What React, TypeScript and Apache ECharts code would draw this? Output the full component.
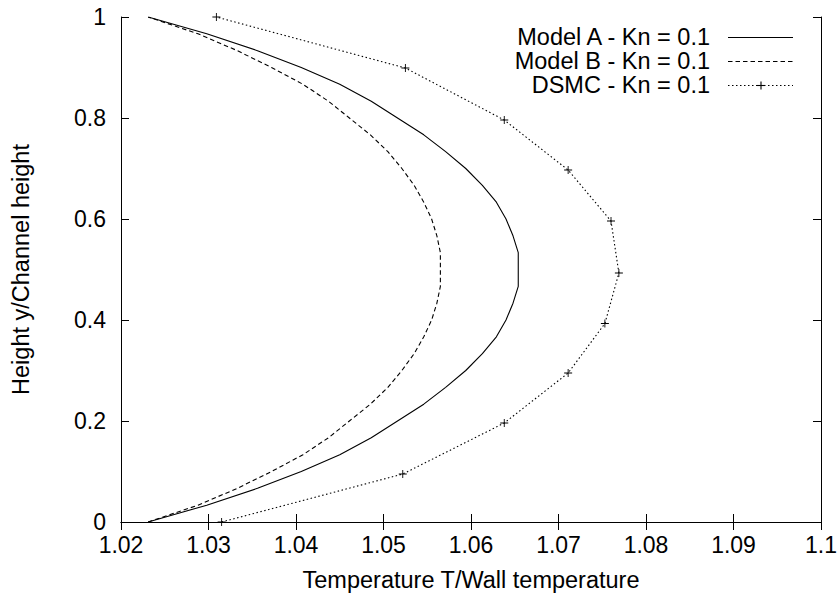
import React, { useEffect, useRef } from "react";
import * as echarts from "echarts";

const FONT = '"Liberation Sans", Arial, Helvetica, sans-serif';

// y / channel height (shared grid for the two model curves)
const modelY = [
  0, 0.0333, 0.0667, 0.1, 0.1333, 0.1667, 0.2, 0.2333, 0.2667, 0.3, 0.3333,
  0.3667, 0.4, 0.4333, 0.4667, 0.5, 0.5333, 0.5667, 0.6, 0.6333, 0.6667, 0.7,
  0.7333, 0.7667, 0.8, 0.8333, 0.8667, 0.9, 0.9333, 0.9667, 1.0,
];

// Model A - Kn = 0.1 : T / wall temperature
const modelAT = [
  1.0231, 1.0298, 1.0356, 1.0406, 1.045, 1.0486, 1.0516, 1.0546, 1.0571,
  1.0594, 1.0613, 1.0629, 1.064, 1.0648, 1.0654, 1.0654, 1.0654, 1.0648,
  1.064, 1.0629, 1.0613, 1.0594, 1.0571, 1.0546, 1.0516, 1.0486, 1.045,
  1.0406, 1.0356, 1.0298, 1.0231,
];

// Model B - Kn = 0.1 : T / wall temperature
const modelBT = [
  1.0231, 1.0288, 1.0333, 1.0372, 1.0408, 1.0437, 1.0461, 1.0485, 1.0505,
  1.0521, 1.0535, 1.0546, 1.0555, 1.0561, 1.0565, 1.0565, 1.0565, 1.0561,
  1.0555, 1.0546, 1.0535, 1.0521, 1.0505, 1.0485, 1.0461, 1.0437, 1.0408,
  1.0372, 1.0333, 1.0288, 1.0231,
];

// DSMC - Kn = 0.1
const dsmcY = [0, 0.095, 0.196, 0.295, 0.393, 0.493, 0.596, 0.697, 0.796, 0.899, 1.0];
const dsmcT = [
  1.0315, 1.0522, 1.0638, 1.0711, 1.0753, 1.0769, 1.076, 1.0711, 1.0638,
  1.0525, 1.0309,
];

const seriesNames = ["Model A - Kn = 0.1", "Model B - Kn = 0.1", "DSMC - Kn = 0.1"];
const xTitle = "Temperature T/Wall temperature";
const yTitle = "Height y/Channel height";

const X_MIN = 1.02;
const X_MAX = 1.1;
const X_STEP = 0.01;
const Y_MIN = 0;
const Y_MAX = 1;
const Y_STEP = 0.2;

const PLUS = "path://M4,0h1v4h4v1h-4v4h-1v-4h-4v-1h4z";

export default function App() {
  const ref = useRef<HTMLDivElement>(null);

  useEffect(() => {
    if (!ref.current) return;
    const chart = echarts.init(ref.current, undefined, { renderer: "svg" });

    const axisLine = { show: true, lineStyle: { color: "#000", width: 1 } };
    const axisTick = { show: true, inside: true, length: 8, lineStyle: { color: "#000", width: 1 } };
    const labelStyle = { color: "#000", fontSize: 23, fontFamily: FONT };

    const legendX = 710;
    const sampleX1 = 728;
    const sampleX2 = 793;
    const rows = [37, 61, 85];

    const option: any = {
      animation: false,
      backgroundColor: "#fff",
      grid: { left: 121, top: 17, right: 18, bottom: 75, containLabel: false },
      xAxis: [
        {
          type: "value",
          position: "bottom",
          min: X_MIN,
          max: X_MAX,
          interval: X_STEP,
          axisLine,
          axisTick,
          splitLine: { show: false },
          axisLabel: {
            ...labelStyle,
            margin: 11,
            formatter: (v: number) => String(parseFloat(v.toFixed(2))),
          },
          name: xTitle,
          nameLocation: "middle",
          nameGap: 46,
          nameTextStyle: { color: "#000", fontSize: 23.5, fontFamily: FONT },
        },
        {
          type: "value",
          position: "top",
          min: X_MIN,
          max: X_MAX,
          interval: X_STEP,
          axisLine,
          axisTick,
          splitLine: { show: false },
          axisLabel: { show: false },
        },
      ],
      yAxis: [
        {
          type: "value",
          position: "left",
          min: Y_MIN,
          max: Y_MAX,
          interval: Y_STEP,
          axisLine,
          axisTick,
          splitLine: { show: false },
          axisLabel: { ...labelStyle, margin: 15 },
          name: yTitle,
          nameLocation: "middle",
          nameRotate: 90,
          nameGap: 88,
          nameTextStyle: { color: "#000", fontSize: 23.5, fontFamily: FONT },
        },
        {
          type: "value",
          position: "right",
          min: Y_MIN,
          max: Y_MAX,
          interval: Y_STEP,
          axisLine,
          axisTick,
          splitLine: { show: false },
          axisLabel: { show: false },
        },
      ],
      series: [
        {
          name: seriesNames[0],
          type: "line",
          xAxisIndex: 0,
          yAxisIndex: 0,
          data: modelAT.map((t, i) => [t, modelY[i]]),
          symbol: "none",
          showSymbol: false,
          lineStyle: { color: "#000", width: 1.1, type: "solid" },
        },
        {
          name: seriesNames[1],
          type: "line",
          xAxisIndex: 0,
          yAxisIndex: 0,
          data: modelBT.map((t, i) => [t, modelY[i]]),
          symbol: "none",
          showSymbol: false,
          lineStyle: { color: "#000", width: 1.1, type: [4.5, 3] },
        },
        {
          name: seriesNames[2],
          type: "line",
          xAxisIndex: 0,
          yAxisIndex: 0,
          data: dsmcT.map((t, i) => [t, dsmcY[i]]),
          symbol: PLUS,
          symbolSize: 8,
          showSymbol: true,
          itemStyle: { color: "#000" },
          lineStyle: { color: "#000", width: 1.1, type: [1.5, 2.5] },
        },
      ],
      graphic: [
        ...seriesNames.map((n, i) => ({
          type: "text",
          x: legendX,
          y: rows[i],
          style: {
            text: n,
            fill: "#000",
            fontSize: 23.5,
            fontFamily: FONT,
            textAlign: "right",
            textVerticalAlign: "middle",
          },
        })),
        {
          type: "line",
          shape: { x1: sampleX1, y1: rows[0] + 0.5, x2: sampleX2, y2: rows[0] + 0.5 },
          style: { stroke: "#000", lineWidth: 1.1 },
        },
        {
          type: "line",
          shape: { x1: sampleX1, y1: rows[1] + 0.5, x2: sampleX2, y2: rows[1] + 0.5 },
          style: { stroke: "#000", lineWidth: 1.1, lineDash: [4.5, 3] },
        },
        {
          type: "line",
          shape: { x1: sampleX1, y1: rows[2] + 0.5, x2: sampleX2, y2: rows[2] + 0.5 },
          style: { stroke: "#000", lineWidth: 1.1, lineDash: [1.5, 2.5] },
        },
        {
          type: "line",
          shape: { x1: 757, y1: rows[2] + 0.5, x2: 765, y2: rows[2] + 0.5 },
          style: { stroke: "#000", lineWidth: 1.1 },
        },
        {
          type: "line",
          shape: { x1: 761, y1: rows[2] - 3.5, x2: 761, y2: rows[2] + 4.5 },
          style: { stroke: "#000", lineWidth: 1.1 },
        },
      ],
    };

    chart.setOption(option);
    return () => chart.dispose();
  }, []);

  return (
    <div
      ref={ref}
      style={{ position: "absolute", left: 0, top: 0, width: 840, height: 597, background: "#fff" }}
    />
  );
}
